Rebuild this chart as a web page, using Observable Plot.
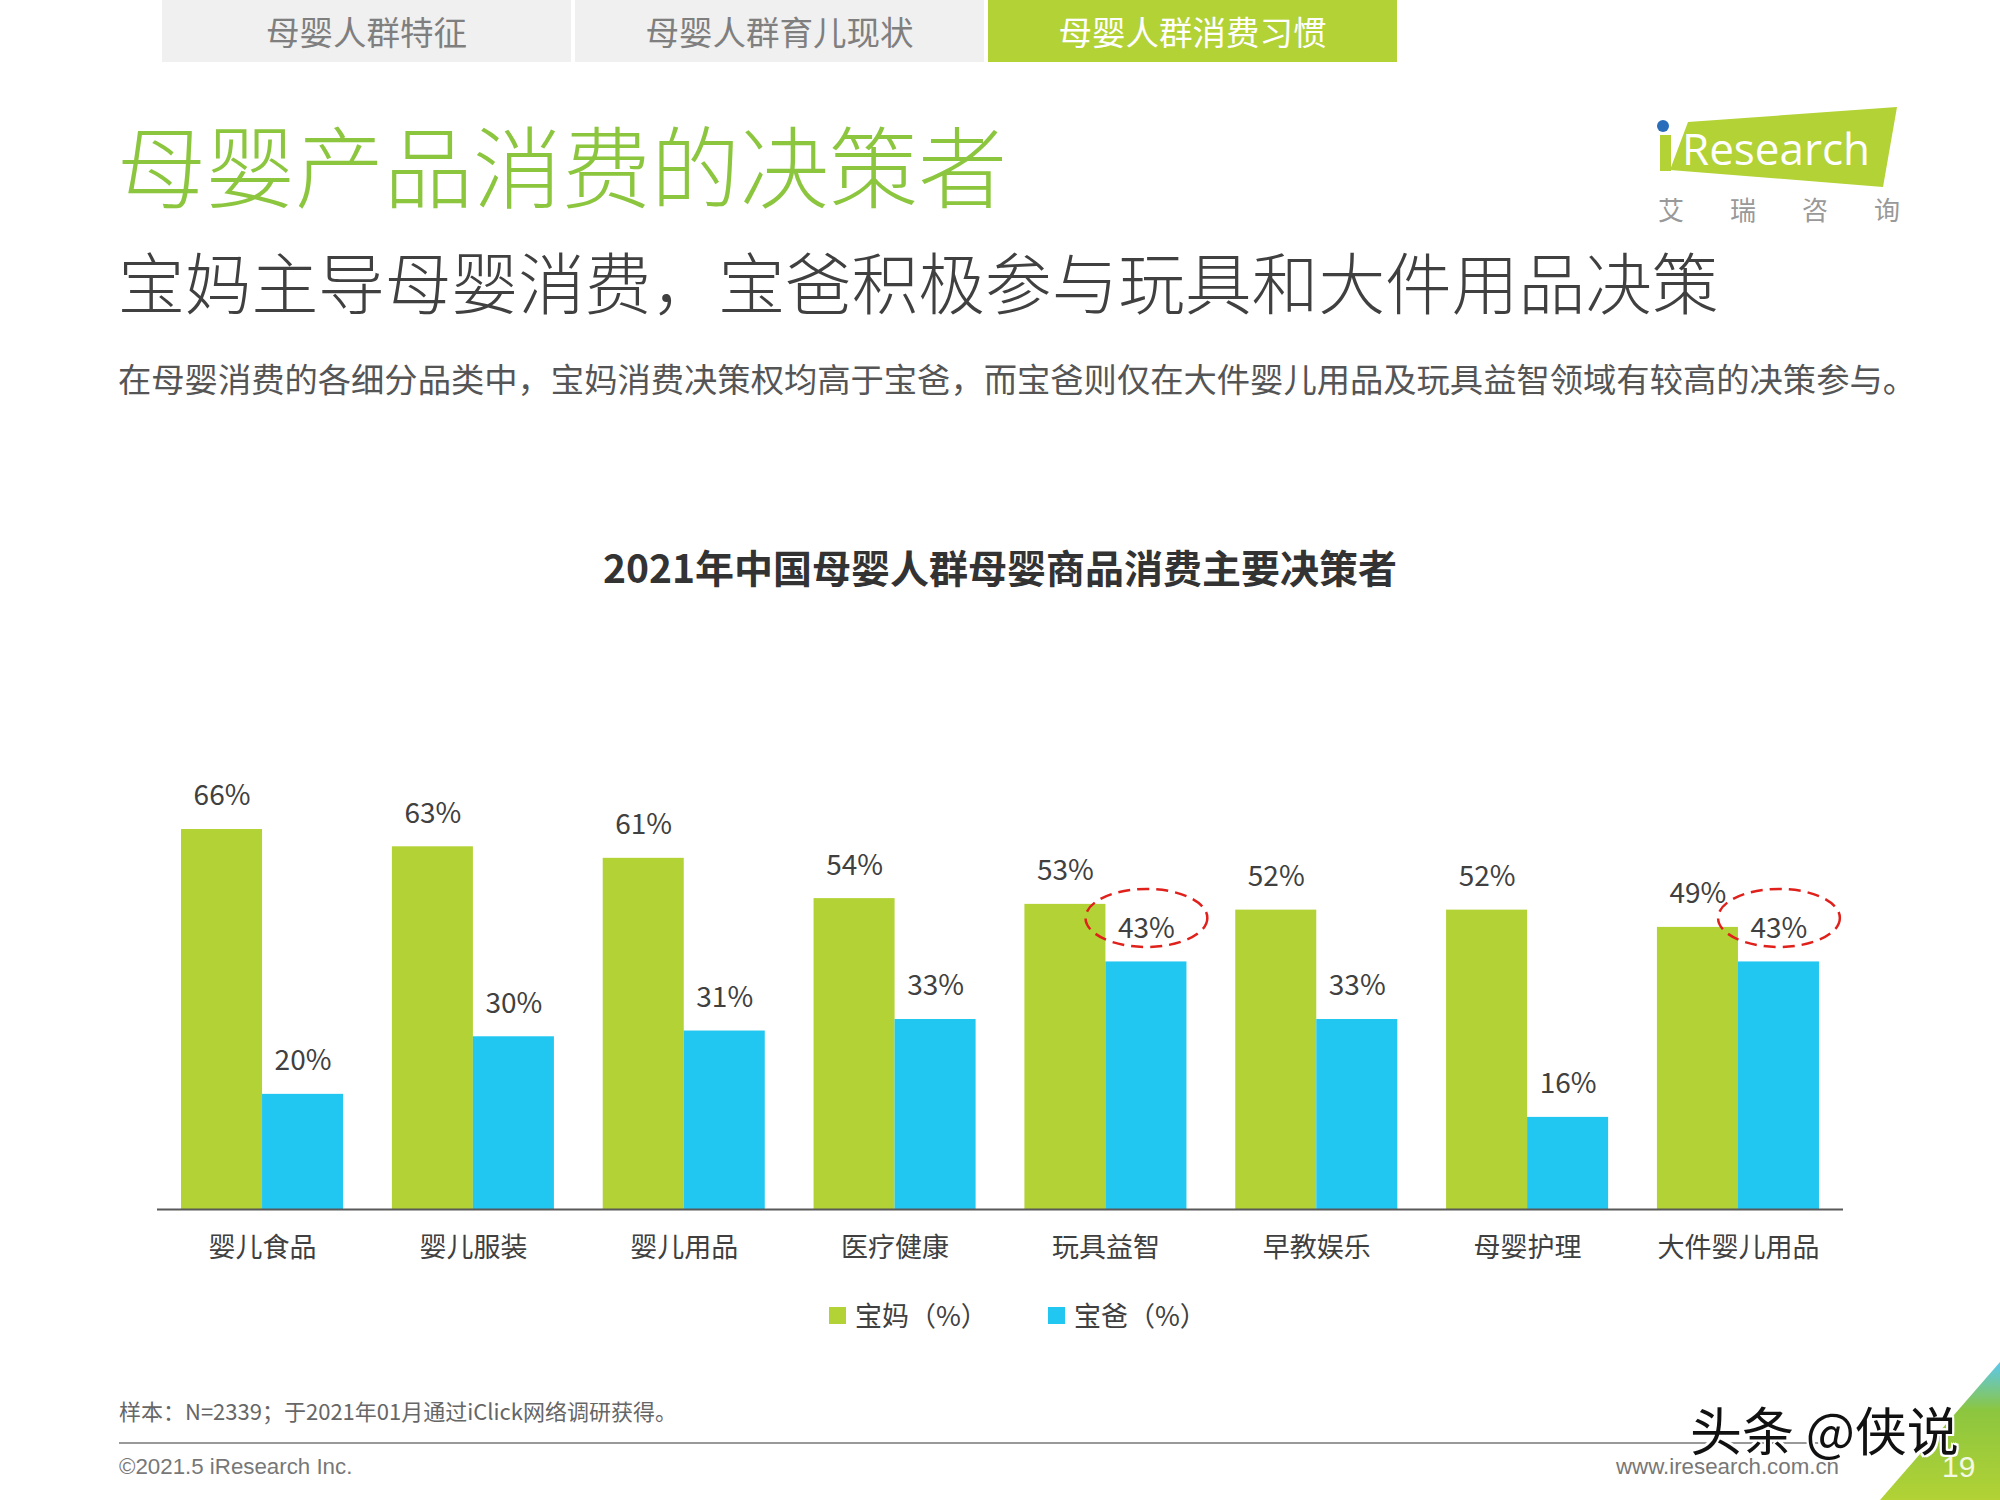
<!DOCTYPE html>
<html>
<head>
<meta charset="utf-8">
<script src="https://cdn.jsdelivr.net/npm/d3@7"></script>
<script src="https://cdn.jsdelivr.net/npm/@observablehq/plot@0.6"></script>
<style>
  html, body { margin: 0; padding: 0; background: #fff; }
  body { width: 2000px; height: 1500px; position: relative; overflow: hidden;
         font-family: "Noto Sans CJK SC", "Noto Sans", sans-serif; }
  .abs { position: absolute; white-space: nowrap; }
  .tab { position: absolute; top: 0; height: 62px; line-height: 62px; text-align: center;
         font-size: 33.5px; color: #7f7f7f; background: #f0f0f0; }
  .legend-item { display: inline-flex; align-items: center; }
  .sw { display: inline-block; width: 17px; height: 17px; margin-right: 9px; }
</style>
</head>
<body>
<script>
// ---------------- data ----------------
const categories = ["婴儿食品", "婴儿服装", "婴儿用品", "医疗健康", "玩具益智", "早教娱乐", "母婴护理", "大件婴儿用品"];
const momValues = [66, 63, 61, 54, 53, 52, 52, 49];
const dadValues = [20, 30, 31, 33, 43, 33, 16, 43];
const seriesNames = ["宝妈（%）", "宝爸（%）"];
const highlightedCategories = ["玩具益智", "大件婴儿用品"];
const tabLabels = ["母婴人群特征", "母婴人群育儿现状", "母婴人群消费习惯"];

const GREEN = "#b2d235";
const BLUE = "#21c7f0";
const TEXT = "#404040";

const rows = categories.map((c, i) => ({category: c, mom: momValues[i], dad: dadValues[i]}));

// ---------------- page chrome ----------------
const body = document.body;
function add(html) { body.insertAdjacentHTML("beforeend", html); }

const tabLeft = [162, 575, 988];
tabLabels.forEach((t, i) => {
  const active = i === 2;
  add(`<div class="tab" style="left:${tabLeft[i]}px;width:409px;${active ? "background:#b2d235;color:#fff;" : ""}">${t}</div>`);
});

add(`<div class="abs" style="left:117px;top:118px;font-size:89px;line-height:89px;color:#8cc63f;font-weight:300;">母婴产品消费的决策者</div>`);
add(`<div class="abs" style="left:118px;top:247px;font-size:66.7px;line-height:67px;color:#404040;font-weight:300;">宝妈主导母婴消费，宝爸积极参与玩具和大件用品决策</div>`);
add(`<div class="abs" style="left:118px;top:360px;font-size:33.3px;line-height:36px;color:#555;">在母婴消费的各细分品类中，宝妈消费决策权均高于宝爸，而宝爸则仅在大件婴儿用品及玩具益智领域有较高的决策参与。</div>`);

// logo
add(`<svg class="abs" style="left:1640px;top:95px;" width="350" height="140" viewBox="0 0 350 140">
  <polygon points="48,27 257,12 243,92 30,75" fill="#b2d235"/>
  <rect x="20" y="40" width="11" height="36" fill="#b2d235"/>
  <circle cx="23" cy="31" r="6" fill="#2a6ebb"/>
  <text x="42" y="70" font-family="Open Sans, sans-serif" font-size="44" fill="#fff">Research</text>
  <text x="18" y="125" font-family="Noto Sans CJK SC" font-size="26" fill="#999" letter-spacing="46">艾瑞咨询</text>
</svg>`);

add(`<div class="abs" style="left:0;width:2000px;top:543px;text-align:center;font-size:39px;line-height:46px;font-weight:bold;color:#333;">2021年中国母婴人群母婴商品消费主要决策者</div>`);

// ---------------- chart ----------------
const W = 2000, ML = 157, MR = 157;
const padInner = 0.2315, padOuter = 0.114;
const step = (W - ML - MR) / (categories.length - padInner + 2 * padOuter);
const half = step * (1 - padInner) / 2;

const ellipse = {
  draw(context, size) {
    const r = Math.sqrt(size / Math.PI);
    const rx = r * 2.1, ry = r, k = 0.5523;
    context.moveTo(rx, 0);
    context.bezierCurveTo(rx, ry * k, rx * k, ry, 0, ry);
    context.bezierCurveTo(-rx * k, ry, -rx, ry * k, -rx, 0);
    context.bezierCurveTo(-rx, -ry * k, -rx * k, -ry, 0, -ry);
    context.bezierCurveTo(rx * k, -ry, rx, -ry * k, rx, 0);
    context.closePath();
  }
};

const chart = Plot.plot({
  width: W,
  height: 569,
  marginLeft: ML,
  marginRight: MR,
  marginTop: 106,
  marginBottom: 60,
  style: {fontFamily: "'Noto Sans CJK SC', sans-serif", fontSize: "27px", color: TEXT, background: "transparent"},
  x: {domain: categories, paddingInner: padInner, paddingOuter: padOuter, round: false, label: null, tickSize: 0, tickPadding: 28},
  y: {domain: [0, 70], axis: null},
  marks: [
    Plot.barY(rows, {x: "category", y: "mom", fill: GREEN, insetRight: half}),
    Plot.barY(rows, {x: "category", y: "dad", fill: BLUE, insetLeft: half}),
    Plot.ruleY([0], {stroke: "#595959", strokeWidth: 2}),
    Plot.text(rows, {x: "category", y: "mom", text: d => d.mom + "%", dx: -half / 2, dy: -33, fontSize: 28, fill: TEXT}),
    Plot.text(rows, {x: "category", y: "dad", text: d => d.dad + "%", dx: half / 2, dy: -33, fontSize: 28, fill: TEXT}),
    Plot.dot(rows.filter(d => highlightedCategories.includes(d.category)), {
      x: "category", y: "dad", dx: half / 2, dy: -44, r: 29, symbol: ellipse,
      fill: "none", stroke: "#e0201b", strokeWidth: 2.5, strokeDasharray: "12,7"
    })
  ]
});
chart.style.position = "absolute";
chart.style.left = "0px";
chart.style.top = "700px";
body.appendChild(chart);

// legend
add(`<div class="abs" style="left:829px;top:1296px;font-size:27px;line-height:38px;color:${TEXT};display:flex;">
  <span class="legend-item" style="width:219px"><span class="sw" style="background:${GREEN}"></span>${seriesNames[0]}</span>
  <span class="legend-item"><span class="sw" style="background:${BLUE}"></span>${seriesNames[1]}</span>
</div>`);

// footer
add(`<div class="abs" style="left:119px;top:1397px;font-size:22px;line-height:26px;color:#666;">样本：N=2339；于2021年01月通过iClick网络调研获得。</div>`);
add(`<div class="abs" style="left:119px;top:1442px;width:1724px;height:2px;background:#999;"></div>`);
add(`<div class="abs" style="left:119px;top:1454px;font-size:22.3px;line-height:26px;color:#777;font-family:'Liberation Sans',sans-serif;">©2021.5 iResearch Inc.</div>`);
add(`<div class="abs" style="left:1599px;top:1454px;font-size:22.3px;line-height:26px;color:#777;font-family:'Liberation Sans',sans-serif;width:240px;text-align:right;">www.iresearch.com.cn</div>`);
add(`<svg class="abs" style="left:1860px;top:1350px;" width="140" height="150">
  <defs><linearGradient id="cg" x1="0" y1="0" x2="0" y2="1">
    <stop offset="0" stop-color="#5bc8ee"/><stop offset="0.35" stop-color="#8cc63f"/><stop offset="1" stop-color="#b2d235"/></linearGradient></defs>
  <polygon points="140,12 20,150 140,150" fill="url(#cg)"/>
</svg>`);
add(`<div class="abs" style="left:1942px;top:1450px;font-size:30px;line-height:34px;color:#f4f9e6;font-family:'Liberation Sans',sans-serif;">19</div>`);
add(`<div class="abs" style="left:1690px;top:1399px;font-size:52px;line-height:60px;color:#111;text-shadow:2px 0 #fff,-2px 0 #fff,0 2px #fff,0 -2px #fff,2px 2px #fff,-2px -2px #fff,2px -2px #fff,-2px 2px #fff;">头条 @侠说</div>`);
</script>
</body>
</html>
